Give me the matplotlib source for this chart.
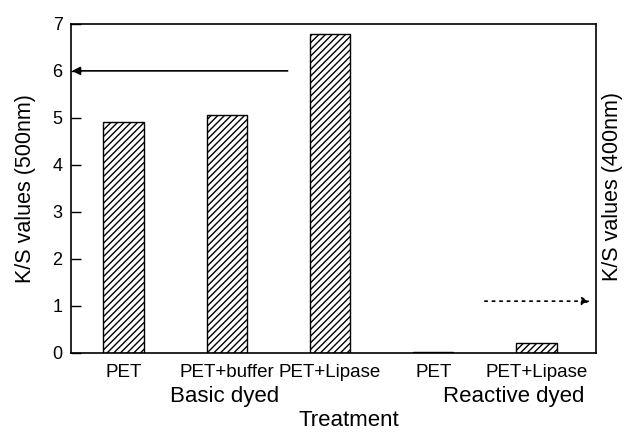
import matplotlib
matplotlib.use("Agg")
import matplotlib.pyplot as plt
import matplotlib.transforms as mtransforms

plt.rcParams['font.family'] = ['Liberation Sans', 'DejaVu Sans']
plt.rcParams['hatch.linewidth'] = 1.0

# data
treatments = ['PET', 'PET+buffer', 'PET+Lipase', 'PET', 'PET+Lipase']
ks_values = [4.91, 5.07, 6.79, 0.02, 0.22]
groups = ['Basic dyed', 'Reactive dyed']
group_pos = [0.98, 3.78]

fig = plt.figure(figsize=(6.33, 4.34), dpi=100)
ax = fig.add_axes([0.112, 0.187, 0.830, 0.758])

x = list(range(len(treatments)))
ax.bar(x, ks_values, width=0.39, color='white', edgecolor='black',
       hatch='/////', linewidth=1.0)

ax.set_xlim(-0.51, 4.58)
ax.set_ylim(0, 7)
ax.set_yticks(range(8))
ax.tick_params(axis='y', direction='in', length=7, width=1, labelsize=13, pad=6)
ax.set_xticks([])
for s in ax.spines.values():
    s.set_linewidth(1.2)

ax.set_ylabel('K/S values (500nm)', fontsize=15.5, labelpad=12)

trans = mtransforms.blended_transform_factory(ax.transData, ax.transAxes)
for xi, name in zip(x, treatments):
    ax.text(xi, -0.035, name, transform=trans, ha='center', va='top', fontsize=13.5)
for gx, g in zip(group_pos, groups):
    ax.text(gx, -0.1, g, transform=trans, ha='center', va='top', fontsize=16)
ax.text(2.18, -0.175, 'Treatment', transform=trans, ha='center', va='top', fontsize=16)

# right side label, no ticks
fig.text(0.967, 0.57, 'K/S values (400nm)', rotation=90, ha='center', va='center',
         fontsize=15.5)

# arrows pointing to the axis each bar group belongs to
ax.annotate('', xy=(-0.5, 6.0), xytext=(1.59, 6.0),
            arrowprops=dict(arrowstyle='-|>', color='black', lw=1.2,
                            mutation_scale=12, shrinkA=0, shrinkB=0))
ax.annotate('', xy=(4.52, 1.1), xytext=(3.5, 1.1),
            arrowprops=dict(arrowstyle='-|>', color='black', lw=1.2,
                            linestyle=(0, (1.5, 3)), mutation_scale=12,
                            shrinkA=0, shrinkB=0))

fig.savefig('out.png', dpi=100)
